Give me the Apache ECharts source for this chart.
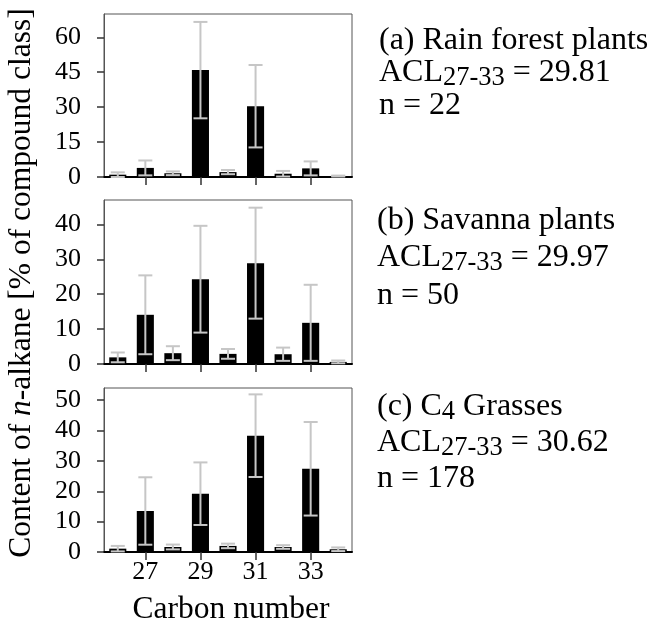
<!DOCTYPE html>
<html>
<head>
<meta charset="utf-8">
<script src="https://cdn.jsdelivr.net/npm/echarts@6/dist/echarts.min.js"></script>
<style>html,body{margin:0;padding:0;background:#fff}#c{width:649px;height:621px}</style>
</head>
<body>
<div id="c"></div>
<script>
const carbon = ['26','27','28','29','30','31','32','33','34'];
const rainMean = [1.0, 3.9, 1.6, 45.9, 2.1, 30.4, 1.4, 3.7, 0.4];
const rainSD   = [1.0, 3.2, 0.8, 20.7, 0.9, 17.7, 1.2, 3.0, 0.2];
const savMean  = [1.9, 14.1, 3.1, 24.3, 2.9, 28.9, 2.8, 11.8, 0.6];
const savSD    = [1.4, 11.3, 2.0, 15.3, 1.4, 15.9, 1.9, 10.9, 0.4];
const c4Mean   = [1.1, 13.5, 1.65, 19.2, 2.0, 38.3, 1.65, 27.4, 0.9];
const c4SD     = [0.9, 11.1, 0.8, 10.3, 0.75, 13.6, 0.6, 15.4, 0.6];
const yTicksA = [0, 15, 30, 45, 60];
const yTicksB = [0, 10, 20, 30, 40];
const yTicksC = [0, 10, 20, 30, 40, 50];
const yMax = [70, 47, 54];

const FONT = '"Liberation Serif", "Times New Roman", serif';
const chart = echarts.init(document.getElementById('c'), null, {renderer: 'canvas'});

const panels = [
  {mean: rainMean, sd: rainSD, ticks: yTicksA, max: yMax[0], top: 14, height: 163},
  {mean: savMean, sd: savSD, ticks: yTicksB, max: yMax[1], top: 200, height: 164},
  {mean: c4Mean, sd: c4SD, ticks: yTicksC, max: yMax[2], top: 388, height: 164}
];

const isOdd = (i, v) => parseInt(v, 10) % 2 === 1;

const grid = [], xAxis = [], yAxis = [], series = [];
panels.forEach((p, k) => {
  grid.push({left: 104, width: 248, top: p.top, height: p.height, show: true,
    borderColor: '#555', borderWidth: 1, backgroundColor: 'transparent'});
  xAxis.push({type: 'category', gridIndex: k, data: carbon, boundaryGap: true,
    axisLine: {lineStyle: {color: '#000', width: 2}},
    axisTick: {show: true, alignWithLabel: true, interval: isOdd, length: 8, lineStyle: {color: '#333', width: 1.5}},
    axisLabel: {show: k === 2, interval: isOdd, fontFamily: FONT, fontSize: 26, color: '#000', margin: 7},
    splitLine: {show: false}});
  yAxis.push({type: 'value', gridIndex: k, min: 0, max: p.max,
    axisLine: {show: true, lineStyle: {color: '#555', width: 1}},
    axisTick: {show: true, length: 7, customValues: p.ticks, lineStyle: {color: '#333', width: 1.5}},
    axisLabel: {customValues: p.ticks, fontFamily: FONT, fontSize: 26, color: '#000', margin: 23},
    splitLine: {show: false}});
  series.push({type: 'bar', xAxisIndex: k, yAxisIndex: k, data: p.mean, barWidth: '62%',
    itemStyle: {color: '#000'}, silent: true});
  series.push({type: 'custom', xAxisIndex: k, yAxisIndex: k, z: 10, silent: true,
    data: p.mean.map((m, i) => [i, m, p.sd[i]]),
    encode: {x: 0, y: 1},
    renderItem: function (params, api) {
      const i = api.value(0), m = api.value(1), s = api.value(2);
      const t = api.coord([i, m + s]);
      const b = api.coord([i, Math.max(m - s, 0)]);
      const h = 7;
      const st = {stroke: '#c6c6c6', lineWidth: 2, fill: null};
      return {type: 'group', children: [
        {type: 'line', shape: {x1: t[0], y1: t[1], x2: b[0], y2: b[1]}, style: st},
        {type: 'line', shape: {x1: t[0] - h, y1: t[1], x2: t[0] + h, y2: t[1]}, style: st},
        {type: 'line', shape: {x1: b[0] - h, y1: b[1], x2: b[0] + h, y2: b[1]}, style: st}
      ]};
    }});
});

const rs = {
  r: {fontFamily: FONT, fontSize: 32, lineHeight: 38, fill: '#000', color: '#000'},
  y: {fontFamily: FONT, fontSize: 31.5, lineHeight: 38, fill: '#000', color: '#000'},
  i: {fontFamily: FONT, fontSize: 31.5, lineHeight: 38, fontStyle: 'italic', fill: '#000', color: '#000'},
  s: {fontFamily: FONT, fontSize: 26.5, lineHeight: 24, verticalAlign: 'bottom', fill: '#000', color: '#000'}
};
function txt(x, y, text, rot) {
  return {type: 'text', x: x, y: y, rotation: rot || 0, silent: true,
    style: {text: text, rich: rs, align: rot ? 'center' : 'left', verticalAlign: 'middle',
      fontFamily: FONT, fontSize: 32, fill: '#000'}};
}
const graphic = [
  txt(22, 283, '{y|Content of }{i|n}{y|-alkane [% of compound class]}', Math.PI / 2),
  txt(379, 41, '{r|(a) Rain forest plants}'),
  txt(379, 73, '{r|ACL}{s|27-33}{r| = 29.81}'),
  txt(379, 106, '{r|n = 22}'),
  txt(377, 221, '{r|(b) Savanna plants}'),
  txt(377, 258, '{r|ACL}{s|27-33}{r| = 29.97}'),
  txt(377, 296, '{r|n = 50}'),
  txt(377, 407, '{r|(c) C}{s|4}{r| Grasses}'),
  txt(377, 443, '{r|ACL}{s|27-33}{r| = 30.62}'),
  txt(377, 479, '{r|n = 178}'),
  {type: 'text', x: 231, y: 610, silent: true,
   style: {text: 'Carbon number', align: 'center', verticalAlign: 'middle', fontFamily: FONT, fontSize: 31.5, fill: '#000'}}
];

chart.setOption({animation: false, backgroundColor: '#fff', grid, xAxis, yAxis, series, graphic});
</script>
</body>
</html>
